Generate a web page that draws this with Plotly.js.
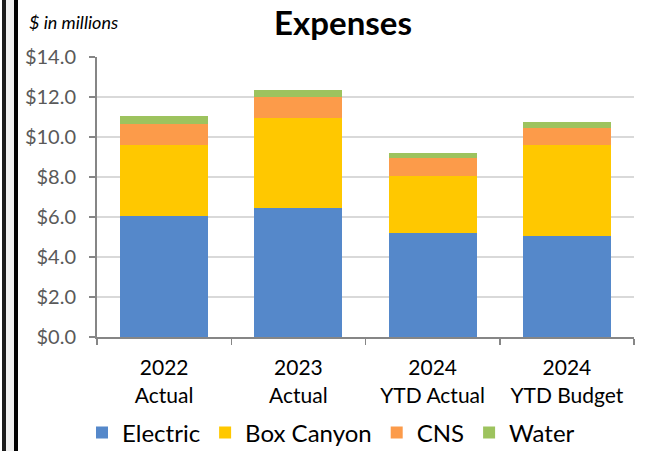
<!DOCTYPE html>
<html><head><meta charset="utf-8">
<script src="https://cdn.plot.ly/plotly-3.0.1.min.js"></script>
<style>
html,body{margin:0;padding:0;background:#fff;}
#wrap{position:relative;width:646px;height:451px;overflow:hidden;}
#chart{position:absolute;left:0;top:0;width:646px;height:451px;}
.b1{position:absolute;left:2px;top:0;width:4px;height:451px;background:#1a1a1a;}
.b2{position:absolute;left:6px;top:0;width:8px;height:451px;background:#efefef;}
.b3{position:absolute;left:14px;top:0;width:4px;height:451px;background:#000;}
</style></head>
<body><div id="wrap"><div id="chart"></div><div class="b1"></div><div class="b2"></div><div class="b3"></div></div>
<script>
const categories = ["2022<br>Actual", "2023<br>Actual", "2024<br>YTD Actual", "2024<br>YTD Budget"];
const electric = [6.05, 6.47, 5.20, 5.05];
const boxCanyon = [3.53, 4.50, 2.85, 4.53];
const cns = [1.09, 1.03, 0.92, 0.87];
const water = [0.38, 0.37, 0.23, 0.28];
const yTickVals = [0, 2, 4, 6, 8, 10, 12, 14];
const yTickText = ["$0.0", "$2.0", "$4.0", "$6.0", "$8.0", "$10.0", "$12.0", "$14.0"];

const font = "Lato, 'Open Sans', sans-serif";
function tr(name, y, color) {
  return {type: "bar", name: name, x: categories, y: y, marker: {color: color, line: {width: 0}}, hoverinfo: "skip"};
}
const data = [
  tr("Electric", electric, "#5588CA"),
  tr("Box Canyon", boxCanyon, "#FFC800"),
  tr("CNS", cns, "#FC9B4A"),
  tr("Water", water, "#9DC35E")
];
const layout = {
  width: 646, height: 451,
  margin: {l: 97, r: 12, t: 57, b: 114, autoexpand: false},
  paper_bgcolor: "#fff", plot_bgcolor: "#fff",
  barmode: "stack", bargap: 0.345,
  font: {family: font, color: "#000"},
  title: {text: "<b>Expenses</b>", font: {family: font, size: 33, color: "#000"}, x: 343/646, xref: "container", xanchor: "center", y: 1 - 23/451, yref: "container", yanchor: "middle"},
  xaxis: {type: "category", showgrid: false, showline: true, linecolor: "#868686", linewidth: 2,
    ticks: "outside", ticklen: 6, tickcolor: "#868686", tickwidth: 1.5, tickson: "boundaries", ticklabelstandoff: 11,
    tickfont: {family: font, size: 21, color: "#000"}, fixedrange: true, automargin: false},
  yaxis: {range: [0, 14], tickvals: yTickVals, ticktext: yTickText, showgrid: true, gridcolor: "#d9d9d9", gridwidth: 1.5,
    showline: true, linecolor: "#868686", linewidth: 2, ticks: "outside", ticklen: 6, tickcolor: "#868686", tickwidth: 1.5,
    ticklabelstandoff: 9, tickfont: {family: font, size: 20, color: "#595959"}, zeroline: false, fixedrange: true, automargin: false},
  legend: {orientation: "h", xref: "container", x: 331/646, xanchor: "center", yref: "container", y: 18/451, yanchor: "middle", traceorder: "normal",
    font: {family: font, size: 24, color: "#000"}, itemwidth: 30},
  annotations: [{text: "<i>$ in millions</i>", xref: "paper", yref: "paper", x: (27 - 97) / 537, xanchor: "left", y: 1 + (57 - 22) / 280, yanchor: "middle",
    showarrow: false, font: {family: font, size: 18, color: "#000"}}]
};
Plotly.newPlot("chart", data, layout, {staticPlot: true, displayModeBar: false});
</script></body></html>
